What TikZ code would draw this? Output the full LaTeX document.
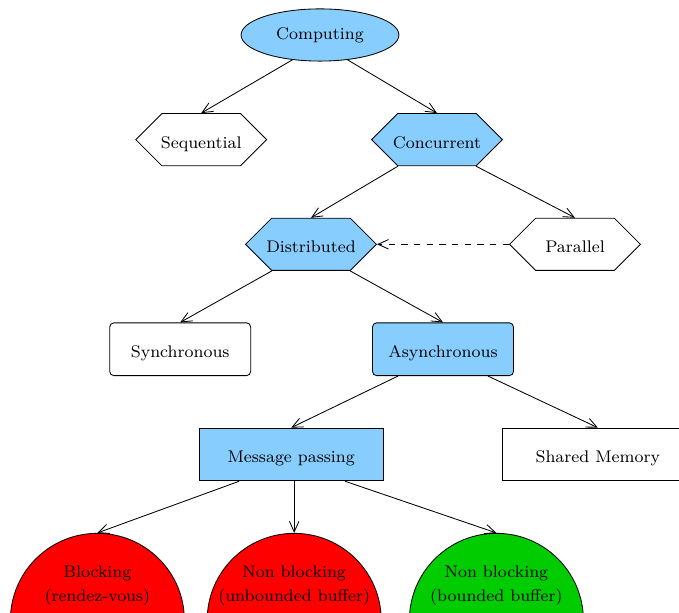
\documentclass[tikz,border=0pt]{standalone}
\usepackage{tikz}
\usetikzlibrary{shapes.geometric, shapes.symbols, arrows.meta, positioning}
\definecolor{skyblue}{RGB}{135,206,255}
\definecolor{leafgreen}{RGB}{0,204,0}

\begin{document}
\begin{tikzpicture}[
        node distance=0.86cm,
        font=\footnotesize,
        top/.style={ellipse, draw, fill=skyblue, minimum width=2.63cm, minimum height=0.87cm},
        hexa/.style={signal, signal to=west and east, signal pointer angle=90, draw, minimum width=2.18cm, minimum height=0.87cm, inner ysep=0pt, inner xsep=-8pt, text height=9pt, text depth=1pt},
        rbox/.style={rectangle, rounded corners=2pt, draw, minimum width=2.35cm, minimum height=0.88cm, text height=9pt, text depth=1pt},
        box/.style={rectangle, draw, minimum width=3.07cm, minimum height=0.88cm, text height=9pt, text depth=1pt},
        leaf/.style={circle, draw, minimum size=2.9cm, inner sep=0pt},
        leaftext/.style={anchor=north, align=center, label distance=-0.42cm},
        arrow/.style={-{Straight Barb[length=5pt,width=4.5pt]}},
    ]
    \useasboundingbox (-5.333,0.583) rectangle (5.983,-9.633);

    \node (comp) [top] {Computing};
    \node (seq) [hexa, below=of comp, xshift=-1.98cm] {Sequential};
    \node (conc) [hexa, fill=skyblue, below=of comp, xshift=1.95cm] {Concurrent};
    \node (dist) [hexa, fill=skyblue, below=of conc, xshift=-2.1cm] {Distributed};
    \node (par) [hexa, right=2.2cm of dist] {Parallel};
    \node (sync) [rbox, below=of dist, xshift=-2.18cm] {Synchronous};
    \node (async) [rbox, fill=skyblue, below=of dist, xshift=2.2cm] {Asynchronous};
    \node (mp) [box, fill=skyblue, below=of async, xshift=-2.53cm] {Message passing};
    \node (shm) [box, minimum width=3.17cm, below=of async, xshift=2.58cm] {Shared Memory};
    \node (block) [leaf, fill=red, below=of mp, xshift=-3.23cm,
        label={[leaftext]north:Blocking\\[2pt](rendez-vous)}] {};
    \node (unbound) [leaf, fill=red, below=of mp, xshift=0.05cm,
        label={[leaftext]north:Non blocking\\[2pt](unbounded buffer)}] {};
    \node (bound) [leaf, fill=leafgreen, below=of mp, xshift=3.42cm,
        label={[leaftext]north:Non blocking\\[2pt](bounded buffer)}] {};

    \draw[arrow] (comp.222) -- (seq.north);
    \draw[arrow] (comp.318) -- (conc.north);
    \draw[arrow] ([xshift=-0.65cm]conc.south) -- (dist.north);
    \draw[arrow] ([xshift=0.65cm]conc.south) -- (par.north);
    \draw[arrow, dashed] (par.west) -- (dist.east);
    \draw[arrow] ([xshift=-0.65cm]dist.south) -- (sync.north);
    \draw[arrow] ([xshift=0.65cm]dist.south) -- (async.north);
    \draw[arrow] ([xshift=-0.75cm]async.south) -- (mp.north);
    \draw[arrow] ([xshift=0.75cm]async.south) -- (shm.north);
    \draw[arrow] ([xshift=-0.87cm]mp.south) -- (block.north);
    \draw[arrow] ([xshift=0.05cm]mp.south) -- (unbound.north);
    \draw[arrow] ([xshift=0.9cm]mp.south) -- (bound.north);

\end{tikzpicture}
\end{document}
